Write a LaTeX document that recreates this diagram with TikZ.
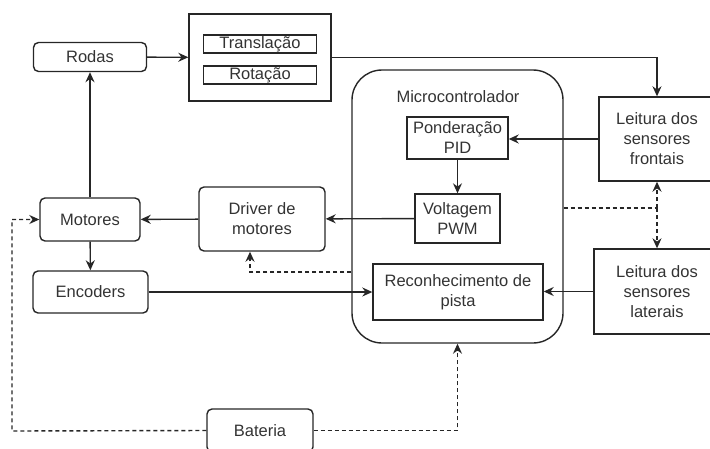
\documentclass[tikz,border=0pt]{standalone}
\usepackage{fontspec}
\setmainfont{Liberation Sans}
\usetikzlibrary{arrows.meta}

\begin{document}
\begin{tikzpicture}[x=1pt,y=-1pt,line width=1.4pt,draw=black!85,
    >={Stealth[length=10pt,width=9pt]},
    rbox/.style={draw,rounded corners=5pt,inner sep=0pt,align=center},
    sbox/.style={draw,inner sep=0pt,align=center},
    power/.style={dash pattern=on 4pt off 3pt},
    every node/.style={font=\fontsize{16.5}{20}\selectfont,text=black!80}]
      \useasboundingbox (0,0) rectangle (710,448);
      % blocos da esquerda
      \node[rbox,minimum width=113,minimum height=29] (rodas) at (90,57) {Rodas};
      \node[rbox,minimum width=100,minimum height=43] (motores) at (90,219.5) {Motores};
      \node[rbox,minimum width=115,minimum height=42] (encoders) at (90.5,292) {Encoders};
      \node[rbox,minimum width=126,minimum height=64] (driver) at (262,219) {Driver de\\motores};
      \node[rbox,minimum width=106,minimum height=43] (bateria) at (260,430.5) {Bateria};
      % movimento
      \node[sbox,minimum width=142,minimum height=87] (mov) at (260,57.5) {};
      \node[sbox,minimum width=113,minimum height=18] (transl) at (260,44) {Translação};
      \node[sbox,minimum width=113,minimum height=18] (rot) at (260,75) {Rotação};
      % microcontrolador
      \node[draw,rounded corners=30pt,minimum width=211,minimum height=273] (mcu) at (457.5,206.5) {};
      \node (mcutitle) at (458,97) {Microcontrolador};
      \node[sbox,minimum width=101,minimum height=42] (pid) at (457.5,138) {Ponderação\\PID};
      \node[sbox,minimum width=85,minimum height=49] (pwm) at (457.5,218.5) {Voltagem\\PWM};
      \node[sbox,minimum width=170,minimum height=56] (pista) at (458,292) {Reconhecimento de\\pista};
      % sensores
      \node[sbox,minimum width=116,minimum height=84] (frontais) at (657,139) {Leitura dos\\sensores\\frontais};
      \node[sbox,minimum width=126,minimum height=85] (laterais) at (657,291.5) {Leitura dos\\sensores\\laterais};
      \coordinate (split) at (657,208);
      \coordinate (drvtap) at (250,272);
      \coordinate (batleft) at (12,431);
      \draw[->] (rodas) -- (mov);
      \draw[->] (motores) -- (rodas);
      \draw[->] (motores) -- (encoders);
      \draw[->] (driver) -- (motores);
      \draw[->] (pwm) -- (driver);
      \draw[->] (pid) -- (pwm);
      \draw[->] (frontais.west) -- (frontais.west -| pid.east);
      \draw[->] (laterais.west) -- (laterais.west -| pista.east);
      \draw[->] (encoders.east) -- (encoders.east -| pista.west);
      \draw[->] (mov.east) -| (frontais.north);
      \draw[power] (mcu.east |- split) -- (split);
      \draw[power,->] (split) -- (frontais.south);
      \draw[power,->] (split) -- (laterais.north);
      \draw[power,->] (mcu.west |- drvtap) -- (drvtap) -- (drvtap |- driver.south);
      \draw[power,->] (bateria.west) -- (batleft) |- (motores.west);
      \draw[power,->] (bateria.east) -| (mcu.south);
    \end{tikzpicture}
\end{document}
